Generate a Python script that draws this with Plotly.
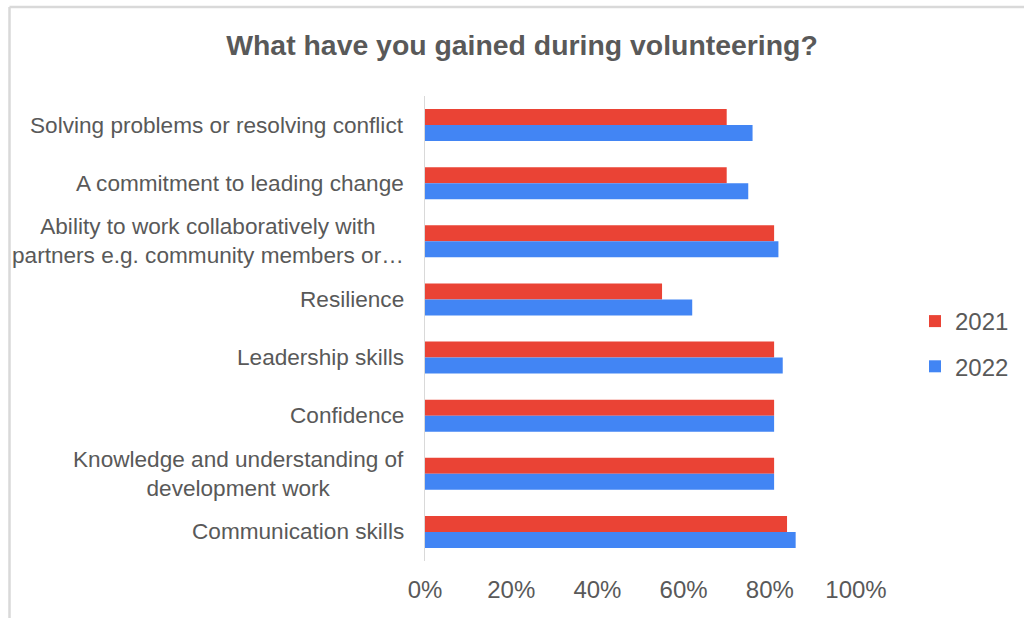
import plotly.graph_objects as go

# Survey results: share of volunteers reporting each gain
categories = [
    "Solving problems or resolving conflict",
    "A commitment to leading change",
    "Ability to work collaboratively with<br>partners e.g. community members or…",
    "Resilience",
    "Leadership skills",
    "Confidence",
    "Knowledge and understanding of<br>development work",
    "Communication skills",
]
values_2021 = [0.70, 0.70, 0.81, 0.55, 0.81, 0.81, 0.81, 0.84]
values_2022 = [0.76, 0.75, 0.82, 0.62, 0.83, 0.81, 0.81, 0.86]
series_names = ["2021", "2022"]
x_ticks = [0, 0.2, 0.4, 0.6, 0.8, 1.0]
x_tick_labels = ["0%", "20%", "40%", "60%", "80%", "100%"]

W, H = 1024, 618
M_L, M_R, M_T, M_B = 425, 168, 96, 57
PW, PH = W - M_L - M_R, H - M_T - M_B

def px_x(p):
    return (p - M_L) / PW

def px_y(p):
    return (H - M_B - p) / PH

FONT = "Arial, Liberation Sans, sans-serif"
GREY_TEXT = "#595959"
RED = "#EA4335"
BLUE = "#4285F4"

fig = go.Figure()
for name, vals, color in zip(series_names, [values_2021, values_2022], [RED, BLUE]):
    fig.add_trace(go.Bar(
        y=categories, x=vals, name=name, orientation="h",
        marker=dict(color=color, line=dict(width=0)),
        legendgroup=name,
    ))

# Category labels: right-aligned block, multi-line labels centred line by line
for cat in categories:
    fig.add_annotation(
        x=0, xref="x", y=cat, yref="y", text=cat, showarrow=False,
        xanchor="right", yanchor="middle", align="center", xshift=-19,
        font=dict(family=FONT, size=22.6, color=GREY_TEXT),
    )

# Outer chart frame
frame = dict(type="line", xref="paper", yref="paper",
             line=dict(color="#D9D9D9", width=2.5), layer="below")
fig.add_shape(**frame, x0=px_x(9.5), x1=px_x(9.5), y0=px_y(7), y1=px_y(640))
fig.add_shape(**frame, x0=px_x(9.5), x1=px_x(1040), y0=px_y(7), y1=px_y(7))

fig.update_layout(
    width=W, height=H,
    margin=dict(l=M_L, r=M_R, t=M_T, b=M_B, autoexpand=False),
    paper_bgcolor="white", plot_bgcolor="white",
    barmode="group", bargap=0.45, bargroupgap=0,
    title=dict(
        text="<b>What have you gained during volunteering?</b>",
        x=522 / W, xref="container", xanchor="center",
        y=1 - 45 / H, yref="container", yanchor="middle",
        font=dict(family=FONT, size=28.4, color=GREY_TEXT),
    ),
    xaxis=dict(
        range=[0, 1], tickvals=x_ticks, ticktext=x_tick_labels,
        showgrid=False, zeroline=False, showline=False, ticks="",
        ticklabelstandoff=12,
        tickfont=dict(family=FONT, size=24, color=GREY_TEXT),
        fixedrange=True,
    ),
    yaxis=dict(
        categoryorder="array", categoryarray=categories,
        autorange="reversed", showticklabels=False, ticks="",
        showgrid=False, zeroline=False,
        showline=True, linecolor="#D9D9D9", linewidth=1,
        fixedrange=True,
    ),
    legend=dict(
        x=px_x(915), xanchor="left", y=px_y(344), yanchor="middle",
        font=dict(family=FONT, size=24, color=GREY_TEXT),
        tracegroupgap=11, bgcolor="rgba(0,0,0,0)",
    ),
    showlegend=True,
)

fig.write_html("out.html")
